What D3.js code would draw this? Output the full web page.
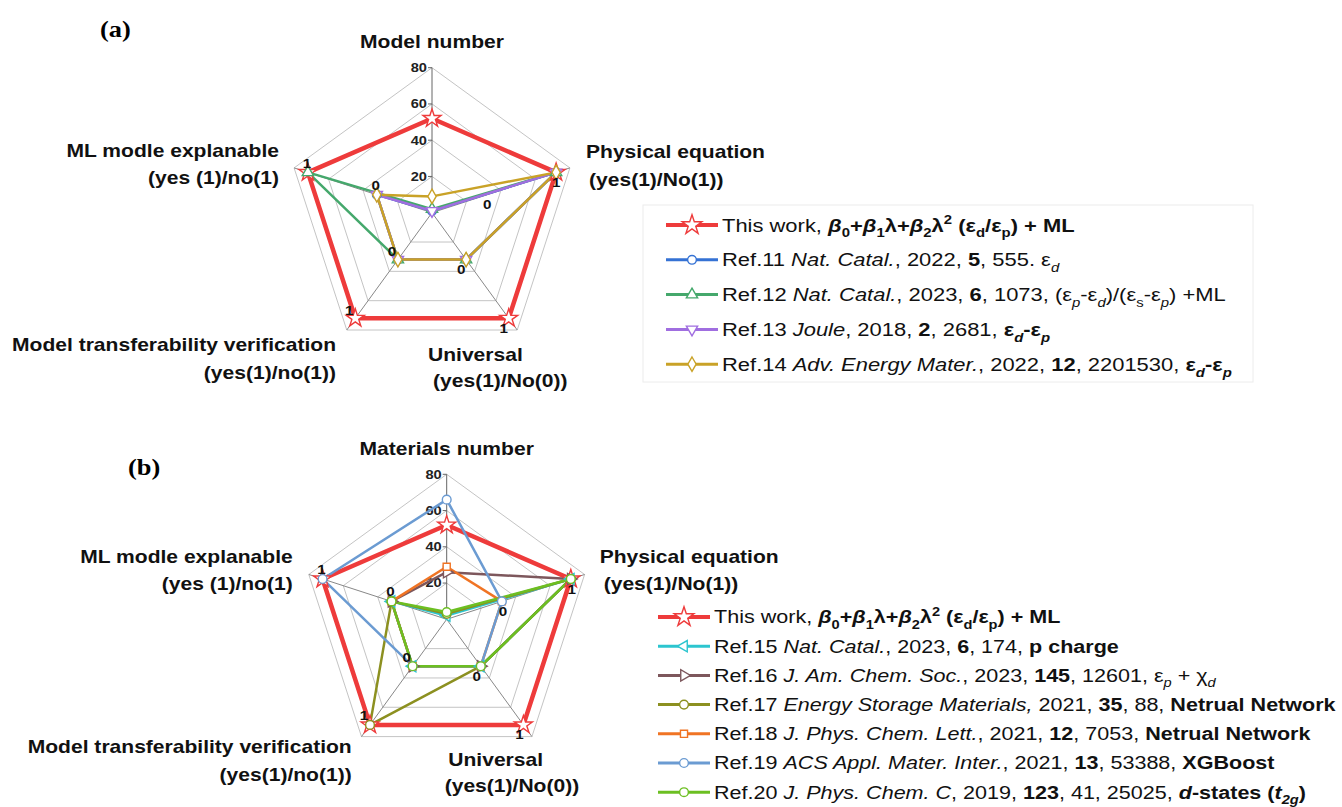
<!DOCTYPE html>
<html>
<head>
<meta charset="utf-8">
<script src="https://cdn.jsdelivr.net/npm/d3@7"></script>
<style>
  body { margin: 0; background: #fff; }
  text { font-family: "Liberation Sans", Arial, sans-serif; white-space: pre; }
</style>
</head>
<body>
<svg id="chart" width="1342" height="807"></svg>
<script>
// ---- data ----
const axesA = ['Model number', 'Physical equation', 'Universal', 'Model transferability verification', 'ML modle explanable'];
const axesB = ['Materials number', 'Physical equation', 'Universal', 'Model transferability verification', 'ML modle explanable'];
const axisSubs = [null, '(yes(1)/No(1))', '(yes(1)/No(0))', '(yes(1)/no(1))', '(yes (1)/no(1)'];
const radialTicks = [20, 40, 60, 80];
// "0" / "1" marks on the yes/no axes sit at these values of the 0-80 scale
const noValue = 32;
const yesValue = 72;

const seriesA = ['This work', 'Ref.11', 'Ref.12', 'Ref.13', 'Ref.14'];
const valuesA = [
  [52, 72, 72, 72, 72],
  [1, 72, 32, 32, 32],
  [2, 72, 32, 32, 72],
  [1, 72, 32, 32, 32],
  [9, 72, 32, 32, 32]
];

const seriesB = ['This work', 'Ref.15', 'Ref.16', 'Ref.17', 'Ref.18', 'Ref.19', 'Ref.20'];
const valuesB = [
  [52, 72, 72, 72, 72],
  [2, 72, 32, 32, 32],
  [26, 72, 32, 32, 32],
  [3, 72, 32, 72, 32],
  [29, 32, 32, 32, 32],
  [66, 32, 32, 32, 72],
  [4, 72, 32, 32, 32]
];

// legend texts: [text, flags] b = bold, i = italic, _ = subscript, ^ = superscript
const thisWork = [['This work, '], ['β', 'bi'], ['0', 'b_'], ['+', 'b'], ['β', 'bi'], ['1', 'b_'], ['λ+', 'b'],
  ['β', 'bi'], ['2', 'b_'], ['λ', 'b'], ['2', 'b^'], [' (ε', 'b'], ['d', 'b_'], ['/ε', 'b'], ['p', 'b_'], [') + ML', 'b']];
const legendA = [
  thisWork,
  [['Ref.11 '], ['Nat. Catal.', 'i'], [', 2022, '], ['5', 'b'], [', 555. ε'], ['d', 'i_']],
  [['Ref.12 '], ['Nat. Catal.', 'i'], [', 2023, '], ['6', 'b'], [', 1073, (ε'], ['p', 'i_'], ['-ε'], ['d', 'i_'],
    [')/(ε'], ['s', '_'], ['-ε'], ['p', 'i_'], [') +ML']],
  [['Ref.13 '], ['Joule', 'i'], [', 2018, '], ['2', 'b'], [', 2681, '], ['ε', 'b'], ['d', 'bi_'], ['-ε', 'b'], ['p', 'bi_']],
  [['Ref.14 '], ['Adv. Energy Mater.', 'i'], [', 2022, '], ['12', 'b'], [', 2201530, '], ['ε', 'b'], ['d', 'bi_'], ['-ε', 'b'], ['p', 'bi_']]
];
const legendB = [
  thisWork,
  [['Ref.15 '], ['Nat. Catal.', 'i'], [', 2023, '], ['6', 'b'], [', 174, '], ['p charge', 'b']],
  [['Ref.16 '], ['J. Am. Chem. Soc.', 'i'], [', 2023, '], ['145', 'b'], [', 12601, ε'], ['p', 'i_'], [' + χ'], ['d', 'i_']],
  [['Ref.17 '], ['Energy Storage Materials,', 'i'], [' 2021, '], ['35', 'b'], [', 88, '], ['Netrual Network', 'b']],
  [['Ref.18 '], ['J. Phys. Chem. Lett.', 'i'], [', 2021, '], ['12', 'b'], [', 7053, '], ['Netrual Network', 'b']],
  [['Ref.19 '], ['ACS Appl. Mater. Inter.', 'i'], [', 2021, '], ['13', 'b'], [', 53388, '], ['XGBoost', 'b']],
  [['Ref.20 '], ['J. Phys. Chem. C', 'i'], [', 2019, '], ['123', 'b'], [', 41, 25025, '], ['d', 'bi'], ['-states (', 'b'],
    ['t', 'bi'], ['2g', 'bi_'], [')', 'b']]
];

// ---- styles ----
const styleA = [
  { color: '#ee3b3b', symbol: 'star', width: 4.5 },
  { color: '#3572d4', symbol: 'circle', width: 2.5 },
  { color: '#45a86c', symbol: 'up', width: 2.5 },
  { color: '#a06ee0', symbol: 'down', width: 2.5 },
  { color: '#c9a227', symbol: 'diamond', width: 2.5 }
];
const styleB = [
  { color: '#ee3b3b', symbol: 'star', width: 4.5 },
  { color: '#2cc5cf', symbol: 'left', width: 2.5 },
  { color: '#7d575c', symbol: 'right', width: 2.5 },
  { color: '#8c9020', symbol: 'circle', width: 2.5 },
  { color: '#f07424', symbol: 'square', width: 2.5 },
  { color: '#6b9bd2', symbol: 'circle', width: 2.5 },
  { color: '#6cbf22', symbol: 'circle', width: 2.5 }
];

const svg = d3.select('#chart');
const R = 145;
const STRETCH = 1.17; // the source figure's text is a bit wider than Arial
const rScale = d3.scaleLinear().domain([0, 80]).range([0, R]);
const angle = (i) => (i * 2 * Math.PI) / 5;
const pointAt = (i, v) => [rScale(v) * Math.sin(angle(i)), -rScale(v) * Math.cos(angle(i))];

const symbolPath = (name, big) => {
  const types = { star: d3.symbolStar, circle: d3.symbolCircle, up: d3.symbolTriangle, down: d3.symbolTriangle,
    left: d3.symbolTriangle, right: d3.symbolTriangle, diamond: d3.symbolDiamond, square: d3.symbolSquare };
  const sizes = { star: 100, circle: 60, up: 55, down: 55, left: 55, right: 55, diamond: 60, square: 50 };
  return d3.symbol().type(types[name]).size(big ? sizes[name] * 1.2 : sizes[name])();
};
const symbolRotate = { down: 180, left: -90, right: 90 };

const richText = (sel, segs, fontSize) => {
  let shift = 0;
  segs.forEach(([t, f = '']) => {
    const isSub = f.includes('_');
    const isSup = f.includes('^');
    const target = isSub ? fontSize * 0.3 : isSup ? -fontSize * 0.38 : 0;
    sel.append('tspan')
      .text(t)
      .attr('dy', target - shift)
      .attr('font-weight', f.includes('b') ? 'bold' : null)
      .attr('font-style', f.includes('i') ? 'italic' : null)
      .attr('font-size', isSub || isSup ? fontSize * 0.68 : null);
    shift = target;
  });
};

const wideText = (parent, x, y, str, anchor, size) => parent.append('text')
  .attr('transform', `translate(${x},${y}) scale(${STRETCH},1)`)
  .attr('dy', '0.35em')
  .attr('text-anchor', anchor)
  .attr('font-size', size)
  .attr('font-weight', 'bold')
  .attr('fill', '#111')
  .text(str);

const drawRadar = (cfg) => {
  const g = svg.append('g').attr('transform', `translate(${cfg.cx},${cfg.cy})`);

  // rings
  radialTicks.forEach((t) => {
    g.append('path')
      .attr('d', d3.lineRadial().angle((d, i) => angle(i)).radius(rScale(t)).curve(d3.curveLinearClosed)(d3.range(5)))
      .attr('fill', 'none')
      .attr('stroke', '#c4c4c4')
      .attr('stroke-width', 1);
  });
  // spokes
  d3.range(5).forEach((i) => {
    const [x, y] = pointAt(i, 80);
    g.append('line').attr('x1', 0).attr('y1', 0).attr('x2', x).attr('y2', y)
      .attr('stroke', i === 0 ? '#666' : '#888').attr('stroke-width', 1);
  });
  // radial tick labels on the first axis
  radialTicks.forEach((t) => {
    g.append('line').attr('x1', -4).attr('x2', 0).attr('y1', -rScale(t)).attr('y2', -rScale(t))
      .attr('stroke', '#666');
    wideText(g, -5, -rScale(t), t, 'end', 12.5).attr('fill', '#222');
  });

  // series
  cfg.values.forEach((vals, s) => {
    const st = cfg.styles[s];
    g.append('path')
      .attr('d', d3.lineRadial().angle((d, i) => angle(i)).radius((d) => rScale(d)).curve(d3.curveLinearClosed)(vals))
      .attr('fill', 'none')
      .attr('stroke', st.color)
      .attr('stroke-width', st.width)
      .attr('stroke-linejoin', 'round');
  });
  cfg.values.forEach((vals, s) => {
    const st = cfg.styles[s];
    vals.forEach((v, i) => {
      const [x, y] = pointAt(i, v);
      g.append('path')
        .attr('d', symbolPath(st.symbol, false))
        .attr('transform', `translate(${x},${y}) rotate(${symbolRotate[st.symbol] || 0})`)
        .attr('fill', '#fff')
        .attr('stroke', st.color)
        .attr('stroke-width', 1.4);
    });
  });

  // 0 / 1 marks on the yes/no axes
  d3.range(1, 5).forEach((i) => {
    [[noValue, '0'], [yesValue, '1']].forEach(([v, lab]) => {
      const [x, y] = pointAt(i, v);
      const off = cfg.markOffsets[i];
      wideText(g, x + off[0], y + off[1], lab, 'middle', 13);
    });
  });

  // axis titles
  cfg.axes.forEach((name, i) => {
    const p = cfg.labelPos[i];
    wideText(g, p[0], p[1], name, p[2], 18);
    if (axisSubs[i]) wideText(g, p[3], p[1] + p[4], axisSubs[i], p[2], 18);
  });

  svg.append('text')
    .attr('transform', `translate(${cfg.tag[0]},${cfg.tag[1]}) scale(1.1,1)`)
    .attr('dy', '0.35em')
    .style('font-family', '"Liberation Serif", "Times New Roman", serif')
    .attr('font-size', 24)
    .attr('font-weight', 'bold')
    .text(cfg.tagText);

  // legend
  const lg = cfg.legend;
  if (lg.box) {
    svg.append('rect')
      .attr('x', lg.box[0]).attr('y', lg.box[1]).attr('width', lg.box[2]).attr('height', lg.box[3])
      .attr('fill', 'none').attr('stroke', '#ececec');
  }
  cfg.legendTexts.forEach((segs, s) => {
    const st = cfg.styles[s];
    const y = lg.y0 + s * lg.dy;
    svg.append('line')
      .attr('x1', lg.x0).attr('x2', lg.x0 + lg.len).attr('y1', y).attr('y2', y)
      .attr('stroke', st.color).attr('stroke-width', s === 0 ? 4 : 3);
    svg.append('path')
      .attr('d', symbolPath(st.symbol, s === 0))
      .attr('transform', `translate(${lg.x0 + lg.len / 2},${y}) rotate(${symbolRotate[st.symbol] || 0})`)
      .attr('fill', '#fff')
      .attr('stroke', st.color)
      .attr('stroke-width', 1.4);
    const t = svg.append('text')
      .attr('transform', `translate(${lg.x0 + lg.len + 4},${y + lg.fs * 0.35}) scale(${lg.sx},1)`)
      .attr('font-size', lg.fs)
      .attr('fill', '#111');
    richText(t, segs, lg.fs);
  });
};

drawRadar({
  cx: 432, cy: 212.7,
  axes: axesA, values: valuesA, styles: styleA, legendTexts: legendA,
  tag: [100, 29], tagText: '(a)',
  markOffsets: [null, [0, 10], [-5, 10], [-6, -8], [-1, -9]],
  // [x, y, anchor, subline x, subline gap]
  labelPos: [[0, -171, 'middle'], [154, -61, 'start', 157, 28], [-4, 142.3, 'start', 1, 25.5],
    [-96, 132.3, 'end', -96, 28], [-153, -61.7, 'end', -153, 27]],
  legend: { x0: 666, len: 52, y0: 225, dy: 34.8, fs: 19, sx: 1.155, box: [643, 205, 610, 177] }
});

drawRadar({
  cx: 446.7, cy: 619.3,
  axes: axesB, values: valuesB, styles: styleB, legendTexts: legendB,
  tag: [128, 467], tagText: '(b)',
  markOffsets: [null, [1, 10], [-4, 10], [-6, -9], [-1, -10]],
  labelPos: [[0, -171, 'middle'], [153, -63, 'start', 157, 27], [1.6, 140, 'start', -2, 26],
    [-95, 127, 'end', -95, 28], [-154, -63, 'end', -154, 27]],
  legend: { x0: 658, len: 52, y0: 617, dy: 29.2, fs: 18.5, sx: 1.165 }
});
</script>
</body>
</html>
